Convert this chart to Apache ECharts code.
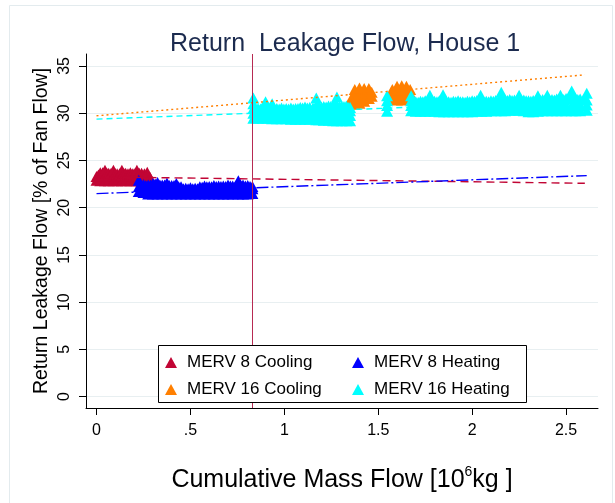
<!DOCTYPE html>
<html><head><meta charset="utf-8">
<script src="https://cdn.jsdelivr.net/npm/echarts@6/dist/echarts.min.js"></script>
<style>html,body{margin:0;padding:0;background:#fff}#c{width:615px;height:503px}</style>
</head><body><div id="c"></div>
<script>
const FONT = '"Liberation Sans", Arial, Helvetica, sans-serif';
const titleText = 'Return  Leakage Flow, House 1';
const xAxisTitle = 'Cumulative Mass Flow [10{s|6}kg ]';
const yAxisTitle = 'Return Leakage Flow [% of Fan Flow]';
const xTicks = [0, 0.5, 1, 1.5, 2, 2.5];
const xTickLabels = ['0', '.5', '1', '1.5', '2', '2.5'];
const yTicks = [0, 5, 10, 15, 20, 25, 30, 35];
const seriesNames = ['MERV 8 Cooling', 'MERV 8 Heating', 'MERV 16 Cooling', 'MERV 16 Heating'];
const filterChangeX = 0.832;

// observations: each entry = [x, y, y, ...]
const merv8Cooling = [
  [0.000, 22.9, 23.3], [0.010, 23.45],
  [0.020, 22.85, 23.35, 23.7], [0.0325, 23.7],
  [0.045, 22.85, 23.4, 23.95], [0.055, 23.65],
  [0.065, 22.85, 23.35, 23.65], [0.0775, 23.65],
  [0.090, 22.85, 23.4, 23.95], [0.100, 23.6],
  [0.110, 22.85, 23.35, 23.6], [0.1225, 23.6],
  [0.135, 22.85, 23.4, 23.95], [0.145, 23.65],
  [0.155, 22.85, 23.35, 23.65], [0.1675, 23.6],
  [0.180, 22.85, 23.4, 23.7], [0.190, 23.6],
  [0.200, 22.85, 23.35, 23.6],
  [0.215, 22.85, 23.4, 23.95], [0.2275, 23.65],
  [0.240, 22.85, 23.35, 23.65], [0.255, 23.6],
  [0.270, 22.9, 23.4, 23.75],
  [0.285, 23.0, 23.2]
];
const merv8Heating = [
  [0.225, 21.7, 22.2, 22.9], [0.2375, 22.4],
  [0.250, 21.6, 22.05, 22.45], [0.2625, 22.35],
  [0.275, 21.45, 22.0, 22.4], [0.2875, 22.4],
  [0.300, 21.45, 22.05, 22.55], [0.3125, 22.5],
  [0.325, 21.45, 22.05, 22.65], [0.3375, 22.4],
  [0.350, 21.45, 22.0, 22.4], [0.3625, 22.4],
  [0.375, 21.45, 22.05, 22.6], [0.3875, 22.35],
  [0.400, 21.45, 22.0, 22.35], [0.4125, 22.35],
  [0.425, 21.45, 22.05, 22.55], [0.4375, 22.2],
  [0.450, 21.45, 21.95, 22.2], [0.4625, 22.0],
  [0.475, 21.45, 22.05], [0.4875, 22.0],
  [0.500, 21.45, 22.1], [0.5125, 22.0],
  [0.525, 21.45, 22.05], [0.5375, 22.0],
  [0.550, 21.45, 21.95, 22.2], [0.5625, 22.15],
  [0.575, 21.45, 22.0, 22.3], [0.5875, 22.2],
  [0.600, 21.45, 21.95, 22.25], [0.6125, 22.2],
  [0.625, 21.45, 22.0, 22.35], [0.6375, 22.25],
  [0.650, 21.45, 21.95, 22.3], [0.6625, 22.25],
  [0.675, 21.45, 22.0, 22.3], [0.6875, 22.25],
  [0.700, 21.45, 22.0, 22.4], [0.7125, 22.3],
  [0.725, 21.45, 21.95, 22.3], [0.740, 22.3],
  [0.755, 21.45, 22.05, 22.45, 22.85], [0.7675, 22.35],
  [0.780, 21.45, 22.0, 22.4], [0.7925, 22.3],
  [0.805, 21.45, 22.0, 22.35], [0.8175, 22.25],
  [0.830, 21.5, 22.0, 22.25]
];
const merv16Cooling = [
  [1.355, 31.0, 31.5],
  [1.375, 30.95, 31.5, 32.0, 32.5],
  [1.400, 31.05, 31.6, 32.1, 32.65],
  [1.425, 31.25, 31.8, 32.3, 32.6],
  [1.450, 31.55, 32.1, 32.6],
  [1.465, 31.8, 32.2],
  [1.575, 31.5, 32.0, 32.5],
  [1.600, 31.4, 31.95, 32.45, 32.85],
  [1.625, 31.4, 31.95, 32.45, 32.9],
  [1.650, 31.45, 32.0, 32.5, 32.85],
  [1.670, 31.55, 32.1, 32.5]
];
const merv16Heating = [
  [0.835, 29.45, 30.0, 30.5, 31.0, 31.6], [0.8475, 30.45],
  [0.860, 29.45, 30.0, 30.5], [0.8725, 30.45],
  [0.885, 29.45, 30.0, 30.55], [0.8975, 30.45],
  [0.900, 31.2],
  [0.910, 29.45, 30.0, 30.5], [0.9225, 30.45],
  [0.935, 29.4, 29.95, 30.45, 31.0], [0.9475, 30.45],
  [0.960, 29.4, 29.95, 30.5], [0.9725, 30.45],
  [0.985, 29.4, 29.95, 30.55], [0.9975, 30.45],
  [1.010, 29.4, 29.95, 30.5], [1.0225, 30.45],
  [1.035, 29.35, 29.9, 30.55], [1.0475, 30.45],
  [1.060, 29.35, 29.9, 30.5], [1.0725, 30.5],
  [1.085, 29.35, 29.9, 30.6], [1.0975, 30.55],
  [1.110, 29.35, 29.9, 30.65], [1.1225, 30.55],
  [1.135, 29.35, 29.9, 30.6], [1.1525, 30.55],
  [1.170, 29.3, 29.85, 30.35, 30.8, 31.6],
  [1.185, 29.3, 29.85, 30.7], [1.1975, 30.65],
  [1.210, 29.25, 29.8, 30.3, 30.7], [1.2225, 30.65],
  [1.235, 29.25, 29.8, 30.3, 30.75], [1.2475, 30.7],
  [1.260, 29.2, 29.8, 30.3, 30.8], [1.270, 30.75],
  [1.280, 29.2, 29.75, 30.25, 30.8, 31.7], [1.2925, 30.7],
  [1.305, 29.2, 29.75, 30.25, 30.75], [1.3175, 30.7],
  [1.330, 29.2, 29.75, 30.25, 30.75], [1.340, 30.6],
  [1.350, 29.2, 29.75, 30.25, 30.6],
  [1.547, 30.2, 30.8, 31.3, 31.85],
  [1.675, 30.25, 30.8, 31.3, 31.85], [1.6875, 31.2],
  [1.700, 30.2, 30.75, 31.2], [1.7125, 31.15],
  [1.725, 30.2, 30.75, 31.25], [1.7375, 31.2],
  [1.750, 30.2, 30.75, 31.3], [1.7625, 31.2],
  [1.775, 30.2, 30.75, 31.2, 31.9], [1.7875, 31.15],
  [1.800, 30.2, 30.75, 31.25], [1.8125, 31.2],
  [1.825, 30.15, 30.7, 31.3], [1.8375, 31.2],
  [1.845, 31.95],
  [1.850, 30.15, 30.7, 31.25], [1.8625, 31.15],
  [1.875, 30.15, 30.7, 31.2], [1.8875, 31.15],
  [1.900, 30.15, 30.7, 31.25], [1.9125, 31.2],
  [1.925, 30.15, 30.7, 31.3], [1.9375, 31.2],
  [1.950, 30.15, 30.7, 31.2], [1.9625, 31.15],
  [1.975, 30.15, 30.7, 31.25], [1.9875, 31.2],
  [2.000, 30.15, 30.7, 31.3], [2.0125, 31.25],
  [2.025, 30.2, 30.75, 31.35], [2.0375, 31.25],
  [2.045, 31.9],
  [2.050, 30.2, 30.75, 31.3], [2.0625, 31.2],
  [2.075, 30.2, 30.75, 31.25], [2.0875, 31.2],
  [2.100, 30.25, 30.8, 31.3], [2.1125, 31.25],
  [2.125, 30.25, 30.8, 31.35], [2.140, 31.3],
  [2.155, 30.25, 30.8, 31.5, 32.2], [2.165, 31.35],
  [2.175, 30.25, 30.8, 31.4], [2.1875, 31.35],
  [2.200, 30.3, 30.85, 31.45], [2.2125, 31.35],
  [2.225, 30.3, 30.85, 31.4], [2.2375, 31.35],
  [2.250, 30.3, 30.85, 31.5, 31.9], [2.2625, 31.35],
  [2.275, 30.25, 30.8, 31.4], [2.2875, 31.3],
  [2.300, 30.15, 30.7, 31.3], [2.3125, 31.25],
  [2.325, 30.15, 30.7, 31.35], [2.3375, 31.3],
  [2.350, 30.2, 30.75, 31.4, 31.85], [2.3625, 31.35],
  [2.375, 30.25, 30.8, 31.45], [2.3875, 31.4],
  [2.400, 30.25, 30.8, 31.5, 31.9], [2.4125, 31.4],
  [2.425, 30.25, 30.8, 31.45], [2.4375, 31.4],
  [2.450, 30.25, 30.8, 31.5], [2.4625, 31.45],
  [2.470, 31.9],
  [2.475, 30.25, 30.8, 31.5], [2.4875, 31.45],
  [2.500, 30.25, 30.8, 31.55], [2.515, 31.5],
  [2.530, 30.25, 30.8, 31.6, 32.35], [2.540, 31.5],
  [2.550, 30.25, 30.8, 31.55], [2.5625, 31.45],
  [2.575, 30.25, 30.8, 31.5], [2.5925, 31.4],
  [2.610, 30.3, 30.85, 31.4, 32.1]
];
// linear fits [start, end]
const merv8CoolingFit = [[0, 23.26], [2.6, 22.58]];
const merv8HeatingFit = [[0, 21.49], [2.61, 23.39]];
const merv16CoolingFit = [[0, 29.72], [2.6, 34.05]];
const merv16HeatingFit = [[0, 29.37], [2.6, 31.32]];

const colors = ['#c10534', '#0000ff', '#ff7f00', '#00ffff'];

const toPoints = cols => cols.flatMap(c => c.slice(1).map(y => [c[0], y]));
const scatterSets = [merv8Cooling, merv8Heating, merv16Cooling, merv16Heating];
const fitSets = [merv8CoolingFit, merv8HeatingFit, merv16CoolingFit, merv16HeatingFit];
const dashes = [[8, 5], [12, 3, 2, 3], [2, 3], [6, 4]];

const series = [];
scatterSets.forEach((cols, i) => {
  series.push({
    name: seriesNames[i], type: 'scatter', data: toPoints(cols),
    symbol: 'triangle', symbolSize: [12, 11],
    itemStyle: { color: colors[i], opacity: 1 }, z: 2, silent: true
  });
});
fitSets.forEach((d, i) => {
  const s = {
    name: seriesNames[i] + ' fit', type: 'line', data: d, showSymbol: false, symbol: 'none',
    lineStyle: { color: colors[i], width: 1.4, type: dashes[i] }, z: 3, silent: true
  };
  if (i === 3) {
    s.markLine = {
      silent: true, symbol: 'none', label: { show: false },
      lineStyle: { color: '#b72a52', width: 1, type: 'solid' },
      data: [{ xAxis: filterChangeX }]
    };
  }
  series.push(s);
});

const chart = echarts.init(document.getElementById('c'), null, { renderer: 'canvas' });
chart.setOption({
  animation: false,
  backgroundColor: '#ffffff',
  textStyle: { fontFamily: FONT },
  title: {
    text: titleText, left: 165, top: 27,
    textStyle: { fontSize: 25, fontWeight: 'normal', color: '#1c2b4f', fontFamily: FONT }
  },
  grid: { left: 86, right: 17, top: 54, bottom: 95, containLabel: false },
  xAxis: {
    type: 'value', min: -0.056, max: 2.67,
    axisLine: { show: true, onZero: false, lineStyle: { color: '#000', width: 1 } },
    axisTick: { show: true, length: 7, customValues: xTicks, lineStyle: { color: '#000', width: 1 } },
    axisLabel: {
      customValues: xTicks, fontSize: 16, margin: 15, color: '#000', fontFamily: FONT,
      formatter: v => { const k = xTicks.findIndex(t => Math.abs(t - v) < 1e-6); return k >= 0 ? xTickLabels[k] : ''; }
    },
    splitLine: { show: false },
    name: xAxisTitle, nameLocation: 'middle', nameGap: 57, nameMoveOverlap: false,
    nameTextStyle: {
      fontSize: 25, color: '#000', fontFamily: FONT, lineHeight: 30,
      rich: { s: { fontSize: 14, verticalAlign: 'top', color: '#000', fontFamily: FONT, lineHeight: 14 } }
    }
  },
  yAxis: {
    type: 'value', min: -1.2, max: 36.26,
    axisLine: { show: true, onZero: false, lineStyle: { color: '#000', width: 1 } },
    axisTick: { show: true, length: 7, customValues: yTicks, lineStyle: { color: '#000', width: 1 } },
    axisLabel: { customValues: yTicks, rotate: 90, fontSize: 16, margin: 13, color: '#000', fontFamily: FONT },
    splitLine: { show: true, lineStyle: { color: '#e8eff1', width: 1 } },
    name: yAxisTitle, nameLocation: 'middle', nameRotate: 90, nameGap: 34, nameMoveOverlap: false,
    nameTextStyle: { fontSize: 19.5, color: '#000', fontFamily: FONT }
  },
  legend: [
    {
      data: [seriesNames[0], seriesNames[2]], orient: 'vertical', left: 165, top: 354, padding: 0,
      itemGap: 10, itemWidth: 12, itemHeight: 11, icon: 'triangle', z: 20, selectedMode: false,
      textStyle: { fontSize: 17, lineHeight: 14, color: '#000', fontFamily: FONT, padding: [0, 0, 0, 5] }
    },
    {
      data: [seriesNames[1], seriesNames[3]], orient: 'vertical', left: 352, top: 354, padding: 0,
      itemGap: 10, itemWidth: 12, itemHeight: 11, icon: 'triangle', z: 20, selectedMode: false,
      textStyle: { fontSize: 17, lineHeight: 14, color: '#000', fontFamily: FONT, padding: [0, 0, 0, 5] }
    }
  ],
  graphic: [
    { type: 'rect', z: 0, silent: true, shape: { x: 9.5, y: 5.5, width: 603, height: 520 },
      style: { fill: 'none', stroke: '#e3ebee', lineWidth: 1 } },
    { type: 'rect', z: 10, silent: true, shape: { x: 158.5, y: 345.5, width: 368, height: 57 },
      style: { fill: '#ffffff', stroke: '#000000', lineWidth: 1 } }
  ],
  series: series
});
</script></body></html>
